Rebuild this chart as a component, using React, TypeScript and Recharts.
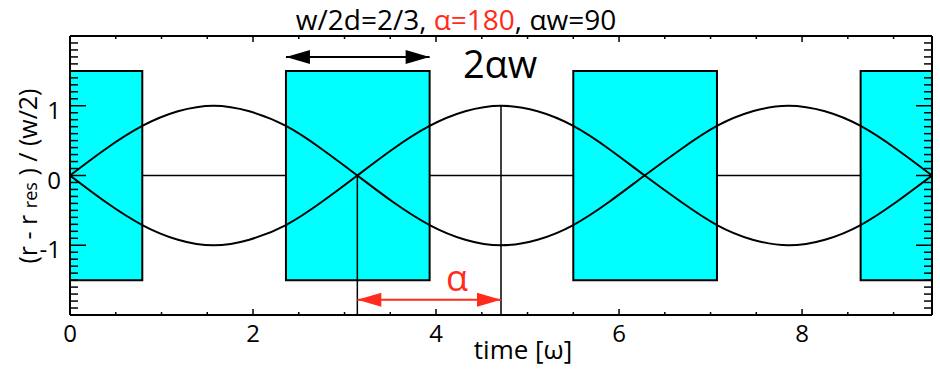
import React from 'react';
import {
  ComposedChart,
  Line,
  XAxis,
  YAxis,
  ReferenceArea,
  ReferenceLine,
  ReferenceDot,
} from 'recharts';

// ---- data ----
const curveX = [0, 0.39, 0.79, 1.18, 1.57, 1.96, 2.36, 2.75, 3.14, 3.53, 3.93, 4.32, 4.71, 5.11, 5.5, 5.89, 6.28, 6.68, 7.07, 7.46, 7.85, 8.25, 8.64, 9.03, 9.42];
const curveUp = [0, 0.38, 0.71, 0.92, 1, 0.92, 0.71, 0.38, 0, -0.38, -0.71, -0.92, -1, -0.92, -0.71, -0.38, 0, 0.38, 0.71, 0.92, 1, 0.92, 0.71, 0.38, 0];
const curveDown = [0, -0.38, -0.71, -0.92, -1, -0.92, -0.71, -0.38, 0, 0.38, 0.71, 0.92, 1, 0.92, 0.71, 0.38, 0, -0.38, -0.71, -0.92, -1, -0.92, -0.71, -0.38, 0];

const boxStarts = [0, 2.36, 5.5, 8.64];
const boxEnds = [0.79, 3.93, 7.07, 9.42];
const boxTop = 1.5;
const boxBottom = -1.5;

const gapStarts = [0.79, 3.93, 7.07];
const gapEnds = [2.36, 5.5, 8.64];

const markerX = [3.14, 4.71];
const markerTop = [0, 1];
const markerBottom = -2;

const blackArrowX = [2.36, 3.93];
const blackArrowY = 1.7;
const redArrowX = [3.14, 4.71];
const redArrowY = -1.78;

const xDomain = [0, 9.42];
const yDomain = [-2, 2];
const xMinorTicks = [0, 0.5, 1, 1.5, 2, 2.5, 3, 3.5, 4, 4.5, 5, 5.5, 6, 6.5, 7, 7.5, 8, 8.5, 9];
const xMajorTicks = [0, 2, 4, 6, 8];
const yMinorTicks = Array.from({ length: 41 }, (_, i) => Math.round(i - 20) / 10);
const yMajorTicks = [-1, 0, 1];
const yTickLabels = ['-1', '0', '1'];

const upData = curveX.map((x, i) => ({ x, y: curveUp[i] }));
const downData = curveX.map((x, i) => ({ x, y: curveDown[i] }));
const blackArrowData = blackArrowX.map((x) => ({ x, y: blackArrowY }));
const redArrowData = redArrowX.map((x) => ({ x, y: redArrowY }));

const FONT = '"Open Sans", "DejaVu Sans", sans-serif';
const RED = '#ff2b1c';

const BottomTick = (props: any) => {
  const { x, y, payload } = props;
  const v = payload.value;
  const major = xMajorTicks.includes(v);
  return (
    <g>
      <line x1={x} x2={x} y1={y} y2={y - (major ? 6 : 3)} stroke="#000" strokeWidth={1.5} />
      {major && (
        <text x={x} y={y + 27} textAnchor="middle" fontSize={24} fontFamily={FONT} fill="#000">
          {v}
        </text>
      )}
    </g>
  );
};

const TopTick = (props: any) => {
  const { x, y, payload } = props;
  const major = xMajorTicks.includes(payload.value);
  return <line x1={x} x2={x} y1={y} y2={y + (major ? 6 : 3)} stroke="#000" strokeWidth={1.5} />;
};

const LeftTick = (props: any) => {
  const { x, y, payload } = props;
  const idx = yMajorTicks.indexOf(payload.value);
  const major = idx >= 0;
  return (
    <g>
      <line x1={x} x2={x + (major ? 16 : 8)} y1={y} y2={y} stroke="#000" strokeWidth={1.5} />
      {major && (
        <text x={x - 9} y={y + 13} textAnchor="end" fontSize={24} fontFamily={FONT} fill="#000">
          {yTickLabels[idx]}
        </text>
      )}
    </g>
  );
};

const RightTick = (props: any) => {
  const { x, y, payload } = props;
  const major = yMajorTicks.includes(payload.value);
  return <line x1={x} x2={x - (major ? 16 : 8)} y1={y} y2={y} stroke="#000" strokeWidth={1.5} />;
};

const makeArrowDot = (color: string) => (p: any) => {
  const { cx, cy, index } = p;
  const dir = index === 0 ? 1 : -1;
  const len = 24;
  const half = 7;
  return (
    <path
      key={`ah-${index}`}
      d={`M${cx},${cy} L${cx + dir * len},${cy - half} L${cx + dir * len},${cy + half} Z`}
      fill={color}
      stroke="none"
    />
  );
};

export default function App() {
  return (
    <div style={{ position: 'absolute', left: 0, top: 0, width: 940, height: 369, background: '#fff' }}>
      <ComposedChart width={940} height={369} margin={{ top: 35, right: 7, bottom: 0, left: 0 }}>
        <XAxis
          dataKey="x"
          type="number"
          domain={xDomain}
          allowDataOverflow
          ticks={xMinorTicks}
          interval={0}
          tickSize={0}
          tickMargin={0}
          height={54}
          axisLine={{ stroke: '#000', strokeWidth: 2 }}
          tickLine={false}
          tick={<BottomTick />}
          zIndex={1500}
        />
        <XAxis
          xAxisId="top"
          orientation="top"
          dataKey="x"
          type="number"
          domain={xDomain}
          allowDataOverflow
          ticks={xMinorTicks}
          interval={0}
          tickSize={0}
          tickMargin={0}
          height={1}
          axisLine={{ stroke: '#000', strokeWidth: 2 }}
          tickLine={false}
          tick={<TopTick />}
          zIndex={1500}
        />
        <YAxis
          type="number"
          domain={yDomain}
          allowDataOverflow
          ticks={yMinorTicks}
          interval={0}
          tickSize={0}
          tickMargin={0}
          width={70}
          axisLine={{ stroke: '#000', strokeWidth: 2 }}
          tickLine={false}
          tick={<LeftTick />}
          zIndex={1500}
        />
        <YAxis
          yAxisId="right"
          orientation="right"
          type="number"
          domain={yDomain}
          allowDataOverflow
          ticks={yMinorTicks}
          interval={0}
          tickSize={0}
          tickMargin={0}
          width={1}
          axisLine={{ stroke: '#000', strokeWidth: 2 }}
          tickLine={false}
          tick={<RightTick />}
          zIndex={1500}
        />

        {gapStarts.map((s, i) => (
          <ReferenceLine
            key={`gap-${i}`}
            segment={[
              { x: s, y: 0 },
              { x: gapEnds[i], y: 0 },
            ]}
            stroke="#000"
            strokeWidth={1.5}
          />
        ))}

        {boxStarts.map((s, i) => (
          <ReferenceArea
            key={`box-${i}`}
            x1={s}
            x2={boxEnds[i]}
            y1={boxBottom}
            y2={boxTop}
            fill="#00ffff"
            fillOpacity={1}
            stroke="#000"
            strokeWidth={2}
          />
        ))}

        {markerX.map((mx, i) => (
          <ReferenceLine
            key={`mk-${i}`}
            segment={[
              { x: mx, y: markerTop[i] },
              { x: mx, y: markerBottom },
            ]}
            stroke="#000"
            strokeWidth={1.5}
          />
        ))}

        <Line data={upData} dataKey="y" type="natural" stroke="#000" strokeWidth={2} dot={false} isAnimationActive={false} />
        <Line
          data={downData}
          dataKey="y"
          xAxisId="top"
          yAxisId="right"
          type="natural"
          stroke="#000"
          strokeWidth={2}
          dot={false}
          isAnimationActive={false}
        />

        <Line
          data={blackArrowData}
          dataKey="y"
          type="linear"
          stroke="#000"
          strokeWidth={2}
          dot={makeArrowDot('#000')}
          isAnimationActive={false}
        />
        <Line
          data={redArrowData}
          dataKey="y"
          type="linear"
          stroke={RED}
          strokeWidth={2}
          dot={makeArrowDot(RED)}
          isAnimationActive={false}
        />

        <ReferenceDot
          x={4.7}
          y={1.4}
          r={0}
          shape={(p: any) => (
            <text x={p.cx} y={p.cy} textAnchor="middle" fontSize={38} fontFamily={FONT} fill="#000">
              2αw
            </text>
          )}
        />
        <ReferenceDot
          x={4.23}
          y={-1.65}
          r={0}
          shape={(p: any) => (
            <text x={p.cx} y={p.cy} textAnchor="middle" fontSize={36} fontFamily={FONT} fill={RED}>
              α
            </text>
          )}
        />
      </ComposedChart>
      <svg
        width={940}
        height={369}
        style={{ position: 'absolute', left: 0, top: 0, pointerEvents: 'none' }}
      >
        <text x={456} y={30} textAnchor="middle" fontSize={28} fontFamily={FONT} fill="#000">
          <tspan>w/2d=2/3, </tspan>
          <tspan fill={RED}>α=180</tspan>
          <tspan>, αw=90</tspan>
        </text>
        <text
          transform="translate(37,176) rotate(-90)"
          textAnchor="middle"
          fontSize={25}
          fontFamily={FONT}
          fill="#000"
        >
          <tspan>(r - r </tspan>
          <tspan fontSize={18}>res</tspan>
          <tspan> ) / (w/2)</tspan>
        </text>
        <text x={523} y={359} textAnchor="middle" fontSize={26} fontFamily={FONT} fill="#000">
          time [ω]
        </text>
      </svg>
    </div>
  );
}
